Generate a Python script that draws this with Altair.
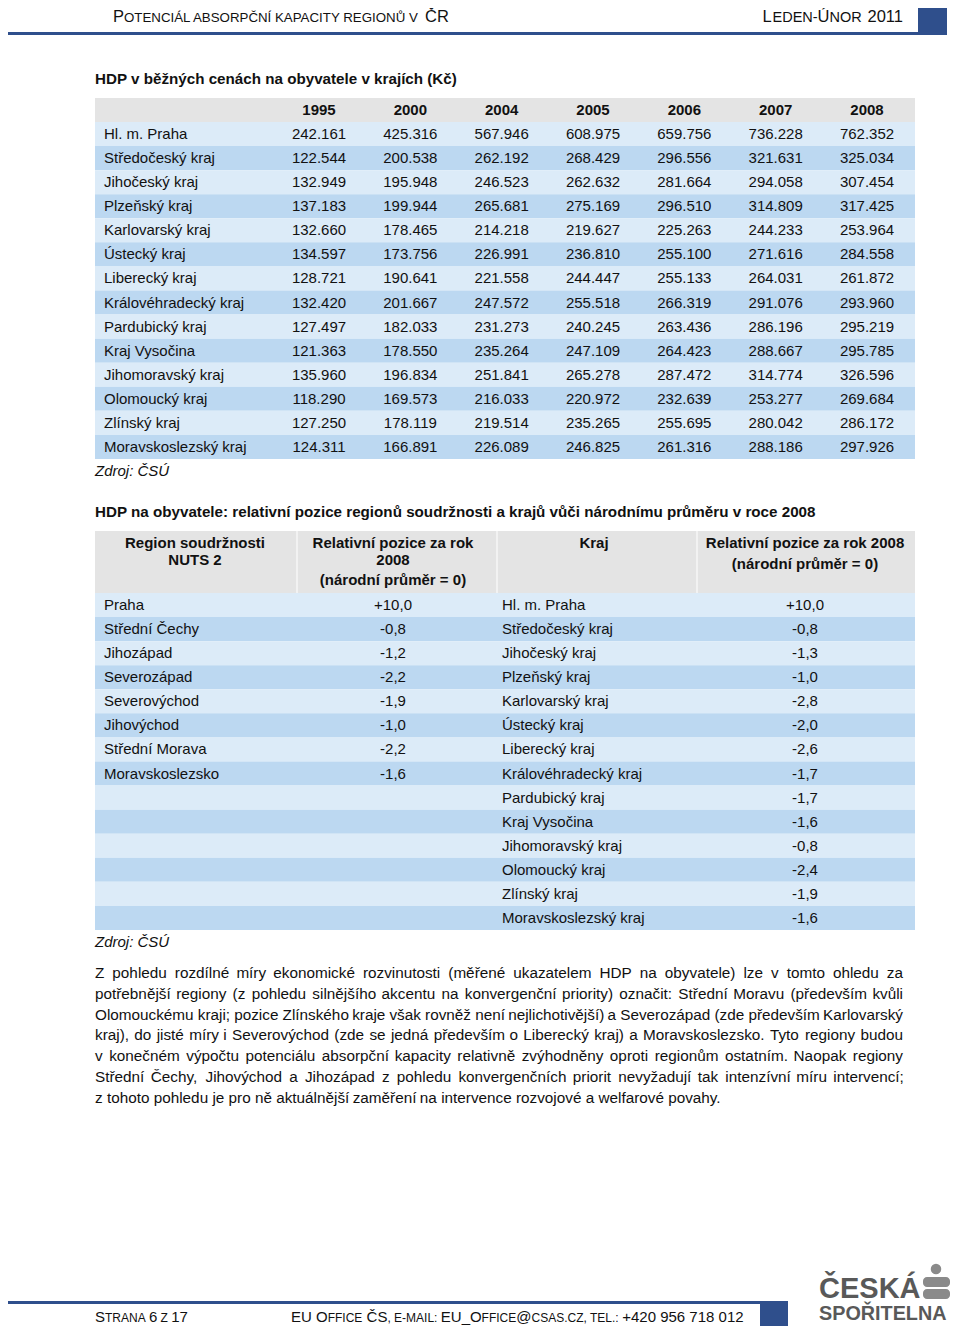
import unicodedata
import altair as alt
import pandas as pd

# ------------------------------------------------------------------ data
years = ["1995", "2000", "2004", "2005", "2006", "2007", "2008"]
kraje = ["Hl. m. Praha", "Středočeský kraj", "Jihočeský kraj", "Plzeňský kraj",
         "Karlovarský kraj", "Ústecký kraj", "Liberecký kraj", "Královéhradecký kraj",
         "Pardubický kraj", "Kraj Vysočina", "Jihomoravský kraj", "Olomoucký kraj",
         "Zlínský kraj", "Moravskoslezský kraj"]
hdp_1995 = [242.161, 122.544, 132.949, 137.183, 132.660, 134.597, 128.721, 132.420, 127.497, 121.363, 135.960, 118.290, 127.250, 124.311]
hdp_2000 = [425.316, 200.538, 195.948, 199.944, 178.465, 173.756, 190.641, 201.667, 182.033, 178.550, 196.834, 169.573, 178.119, 166.891]
hdp_2004 = [567.946, 262.192, 246.523, 265.681, 214.218, 226.991, 221.558, 247.572, 231.273, 235.264, 251.841, 216.033, 219.514, 226.089]
hdp_2005 = [608.975, 268.429, 262.632, 275.169, 219.627, 236.810, 244.447, 255.518, 240.245, 247.109, 265.278, 220.972, 235.265, 246.825]
hdp_2006 = [659.756, 296.556, 281.664, 296.510, 225.263, 255.100, 255.133, 266.319, 263.436, 264.423, 287.472, 232.639, 255.695, 261.316]
hdp_2007 = [736.228, 321.631, 294.058, 314.809, 244.233, 271.616, 264.031, 291.076, 286.196, 288.667, 314.774, 253.277, 280.042, 288.186]
hdp_2008 = [762.352, 325.034, 307.454, 317.425, 253.964, 284.558, 261.872, 293.960, 295.219, 295.785, 326.596, 269.684, 286.172, 297.926]

nuts2 = ["Praha", "Střední Čechy", "Jihozápad", "Severozápad", "Severovýchod",
         "Jihovýchod", "Střední Morava", "Moravskoslezsko"]
nuts2_pos = [10.0, -0.8, -1.2, -2.2, -1.9, -1.0, -2.2, -1.6]
kraje_pos = [10.0, -0.8, -1.3, -1.0, -2.8, -2.0, -2.6, -1.7, -1.7, -1.6, -0.8, -2.4, -1.9, -1.6]

title1 = "HDP v běžných cenách na obyvatele v krajích (Kč)"
title2 = ("HDP na obyvatele: relativní pozice regionů soudržnosti a krajů vůči "
          "národnímu průměru v roce 2008")
source_note = "Zdroj: ČSÚ"
paragraph_lines = [
    "Z pohledu rozdílné míry ekonomické rozvinutosti (měřené ukazatelem HDP na obyvatele) lze v tomto ohledu za",
    "potřebnější regiony (z pohledu silnějšího akcentu na konvergenční priority) označit: Střední Moravu (především kvůli",
    "Olomouckému kraji; pozice Zlínského kraje však rovněž není nejlichotivější) a Severozápad (zde především Karlovarský",
    "kraj), do jisté míry i Severovýchod (zde se jedná především o Liberecký kraj) a Moravskoslezsko. Tyto regiony budou",
    "v konečném výpočtu potenciálu absorpční kapacity relativně zvýhodněny oproti regionům ostatním. Naopak regiony",
    "Střední Čechy, Jihovýchod a Jihozápad z pohledu konvergenčních priorit nevyžadují tak intenzívní míru intervencí;",
    "z tohoto pohledu je pro ně aktuálnější zaměření na intervence rozvojové a welfarové povahy.",
]

# ------------------------------------------------------------------ styles
SANS = "Liberation Sans, Arial, sans-serif"
INK = "#111111"
HEAD_GRAY = "#e4e4e4"
LIGHT = "#dcebf8"
DARK = "#bcd8f1"
NAVY = "#2f4f8c"
LOGO = "#595959"
LOGO2 = "#8a8a8a"
W, H = 944, 1318
OX, OY = 8, 8      # page -> chart offset


def PX(v):
    return v - OX


def PY(v):
    return v - OY


def label(txt, x, y, size=15, weight="normal", style="normal", font=SANS,
          align="left", baseline="middle", color=INK):
    return alt.Chart(pd.DataFrame({"t": [txt]})).mark_text(
        align=align, baseline=baseline, fontSize=size, fontWeight=weight,
        fontStyle=style, font=font, color=color
    ).encode(x=alt.value(PX(x)), y=alt.value(PY(y)), text="t:N")


def box(x1, x2, y1, y2, color, radius=0):
    m = alt.Chart(pd.DataFrame({"a": [0]}))
    mk = m.mark_rect(color=color, cornerRadius=radius) if radius else m.mark_rect(color=color)
    return mk.encode(x=alt.value(PX(x1)), x2=alt.value(PX(x2)),
                     y=alt.value(PY(y1)), y2=alt.value(PY(y2)))


layers = []

# ------------------------------------------------------------------ page header
HB, HS, hb = 16.5, 13.3, 22
layers += [
    label("P", 113, hb, size=HB, baseline="alphabetic"),
    label("OTENCIÁL ABSORPČNÍ KAPACITY REGIONŮ V", 124, hb, size=HS, baseline="alphabetic"),
    label("ČR", 425, hb, size=HB, baseline="alphabetic"),
    label("L", 762.4, hb, size=HB, baseline="alphabetic"),
    label("EDEN-", 772.5, hb, size=14.5, baseline="alphabetic"),
    label("Ú", 817.6, hb, size=HB, baseline="alphabetic"),
    label("NOR", 829.5, hb, size=14.5, baseline="alphabetic"),
    label("2011", 903, hb, size=HB, baseline="alphabetic", align="right"),
    box(2, 918, 32, 35, NAVY),
    box(918, 947, 8, 35, NAVY),
]

# ------------------------------------------------------------------ table 1
series = {"1995": hdp_1995, "2000": hdp_2000, "2004": hdp_2004, "2005": hdp_2005,
          "2006": hdp_2006, "2007": hdp_2007, "2008": hdp_2008}
t1_rows = pd.DataFrame({"row": list(range(len(kraje))), "kraj": kraje,
                        "band": ["a" if i % 2 == 0 else "b" for i in range(len(kraje))]})
t1_cells = pd.DataFrame([{"row": i, "year": y, "value": series[y][i]}
                         for i in range(len(kraje)) for y in years])
t1_years = pd.DataFrame({"year": years})

Y1_BAND = alt.Scale(type="band", domain=list(range(14)), range=[PY(122), PY(459)],
                    paddingInner=0, paddingOuter=0)
Y1_PT = alt.Scale(type="point", domain=list(range(14)), range=[PY(122), PY(459)], padding=0.5)
X1 = alt.Scale(type="point", domain=years, range=[PX(319), PX(867)], padding=0)
BANDS = alt.Scale(domain=["a", "b"], range=[LIGHT, DARK])

layers += [
    label(title1, 95, 79, size=15.2, weight="bold"),
    box(95, 915, 98, 122, HEAD_GRAY),
    alt.Chart(t1_rows).mark_rect().encode(
        x=alt.value(PX(95)), x2=alt.value(PX(915)),
        y=alt.Y("row:O", scale=Y1_BAND, axis=None),
        color=alt.Color("band:N", scale=BANDS, legend=None)),
    alt.Chart(t1_years).mark_text(fontSize=15, fontWeight="bold", font=SANS, color=INK,
                                  baseline="middle").encode(
        x=alt.X("year:O", scale=X1, axis=None), y=alt.value(PY(110)), text="year:N"),
    alt.Chart(t1_rows).mark_text(fontSize=15, font=SANS, color=INK, align="left",
                                 baseline="middle").encode(
        x=alt.value(PX(104)), y=alt.Y("row:O", scale=Y1_PT, axis=None), text="kraj:N"),
    alt.Chart(t1_cells).mark_text(fontSize=15, font=SANS, color=INK,
                                  baseline="middle").encode(
        x=alt.X("year:O", scale=X1, axis=None),
        y=alt.Y("row:O", scale=Y1_PT, axis=None),
        text=alt.Text("value:Q", format=".3f")),
    label(source_note, 95, 471, style="italic"),
]

# ------------------------------------------------------------------ table 2
t2_rows = pd.DataFrame({"row": list(range(len(kraje))), "kraj": kraje, "v": kraje_pos,
                        "band": ["a" if i % 2 == 0 else "b" for i in range(len(kraje))]})
t2_nuts = pd.DataFrame({"row": list(range(len(nuts2))), "name": nuts2, "v": nuts2_pos})
Y2_BAND = alt.Scale(type="band", domain=list(range(14)), range=[PY(593), PY(930)],
                    paddingInner=0, paddingOuter=0)
Y2_PT = alt.Scale(type="point", domain=list(range(14)), range=[PY(593), PY(930)], padding=0.5)
FMT = "(datum.v > 0 ? '+' : '-') + replace(format(abs(datum.v), '.1f'), '.', ',')"


def txt_layer(df, field, x, align, fmt=False):
    c = alt.Chart(df)
    if fmt:
        c = c.transform_calculate(lbl=FMT)
        field = "lbl"
    return c.mark_text(fontSize=15, font=SANS, color=INK, align=align,
                       baseline="middle").encode(
        x=alt.value(PX(x)), y=alt.Y("row:O", scale=Y2_PT, axis=None), text=f"{field}:N")


layers += [
    label(title2, 95, 512, size=15.2, weight="bold"),
    box(95, 915, 531, 593, HEAD_GRAY),
    box(296, 298, 531, 593, "#f2f2f2"),
    box(496, 498, 531, 593, "#f2f2f2"),
    box(696, 698, 531, 593, "#f2f2f2"),
    alt.Chart(t2_rows).mark_rect().encode(
        x=alt.value(PX(95)), x2=alt.value(PX(915)),
        y=alt.Y("row:O", scale=Y2_BAND, axis=None),
        color=alt.Color("band:N", scale=BANDS, legend=None)),
    label("Region soudržnosti", 195, 543, weight="bold", align="center"),
    label("NUTS 2", 195, 560, weight="bold", align="center"),
    label("Relativní pozice za rok", 393, 543, weight="bold", align="center"),
    label("2008", 393, 560, weight="bold", align="center"),
    label("(národní průměr = 0)", 393, 580, weight="bold", align="center"),
    label("Kraj", 594, 543, weight="bold", align="center"),
    label("Relativní pozice za rok 2008", 805, 543, weight="bold", align="center"),
    label("(národní průměr = 0)", 805, 564, weight="bold", align="center"),
    txt_layer(t2_nuts, "name", 104, "left"),
    txt_layer(t2_nuts, "v", 393, "center", fmt=True),
    txt_layer(t2_rows, "kraj", 502, "left"),
    txt_layer(t2_rows, "v", 805, "center", fmt=True),
    label(source_note, 95, 942, style="italic"),
]

# ------------------------------------------------------------------ paragraph (justified)
# Arial / Liberation Sans advance widths (1/1000 em) used to justify the lines.
ADV = {" ": 278, "(": 333, ")": 333, ",": 278, "-": 333, ".": 278, ":": 278, ";": 278,
       "a": 556, "b": 556, "c": 500, "d": 556, "e": 556, "f": 278, "g": 556, "h": 556,
       "i": 222, "j": 222, "k": 500, "l": 222, "m": 833, "n": 556, "o": 556, "p": 556,
       "q": 556, "r": 333, "s": 500, "t": 278, "u": 556, "v": 500, "w": 722, "x": 500,
       "y": 500, "z": 500, "A": 667, "B": 667, "C": 722, "D": 722, "E": 667, "F": 611,
       "G": 778, "H": 722, "I": 278, "J": 500, "K": 667, "L": 556, "M": 833, "N": 722,
       "O": 778, "P": 667, "R": 722, "S": 667, "T": 611, "U": 722, "V": 667, "Z": 611}
PFS = 15.3
P_LEFT, P_RIGHT = 95, 903


def adv(word):
    tot = 0
    for ch in word:
        base = unicodedata.normalize("NFD", ch)[0]
        tot += ADV.get(base, 556)
    return tot * PFS / 1000.0


words = []
for li, line in enumerate(paragraph_lines):
    ws = line.split(" ")
    widths = [adv(w) for w in ws]
    last = li == len(paragraph_lines) - 1
    gap = adv(" ") if last else ((P_RIGHT - P_LEFT) - sum(widths)) / (len(ws) - 1)
    x = P_LEFT
    for w, wd in zip(ws, widths):
        words.append({"i": li, "word": w, "x": PX(x)})
        x += wd + gap
para = pd.DataFrame(words)
layers.append(
    alt.Chart(para).mark_text(fontSize=PFS, font=SANS, color=INK, align="left",
                              baseline="middle").encode(
        x=alt.X("x:Q", scale=alt.Scale(domain=[0, W], range=[0, W], nice=False, zero=False),
                axis=None),
        y=alt.Y("i:O", scale=alt.Scale(type="point", domain=list(range(7)),
                                       range=[PY(962.6), PY(1108.2)], padding=0.5), axis=None),
        text="word:N")
)

# ------------------------------------------------------------------ footer
fb = 1322
FB, FS = 15, 12
LG, LX = -11, -6
layers += [
    box(0, 762, 1301, 1304, NAVY),
    box(760, 788, 1301, 1329, NAVY),
    label("S", 95, fb, size=FB, baseline="alphabetic"),
    label("TRANA", 105, fb, size=FS, baseline="alphabetic"),
    label("6", 149, fb, size=FB, baseline="alphabetic"),
    label("Z", 160.6, fb, size=FS, baseline="alphabetic"),
    label("17", 171.2, fb, size=FB, baseline="alphabetic"),
    label("EU O", 291, fb, size=FB, baseline="alphabetic"),
    label("FFICE", 327.7, fb, size=FS, baseline="alphabetic"),
    label("ČS", 366.6, fb, size=FB, baseline="alphabetic"),
    label(", E-MAIL:", 387.4, fb, size=FS, baseline="alphabetic"),
    label("EU_O", 440.8, fb, size=FB, baseline="alphabetic"),
    label("FFICE", 481.6, fb, size=FS, baseline="alphabetic"),
    label("@", 516.3, fb, size=FB, baseline="alphabetic"),
    label("CSAS.CZ, TEL.:", 531.5, fb, size=FS, baseline="alphabetic"),
    label("+420 956 718 012", 622.2, fb, size=FB, baseline="alphabetic"),
    # logo
    label("ČESKÁ", 825 + LX, 1309 + LG, size=29, weight="bold", baseline="alphabetic", color=LOGO),
    label("SPOŘITELNA", 825 + LX, 1331 + LG, size=19.8, weight="bold", baseline="alphabetic", color=LOGO),
    box(929 + LX, 956 + LX, 1288 + LG, 1298 + LG, LOGO2, radius=4),
    box(929 + LX, 956 + LX, 1300 + LG, 1310 + LG, LOGO2, radius=4),
    alt.Chart(pd.DataFrame({"a": [0]})).mark_circle(color=LOGO2, opacity=1, size=110).encode(
        x=alt.value(PX(942 + LX)), y=alt.value(PY(1280 + LG))),
]

chart = alt.layer(*layers).resolve_scale(
    x="independent", y="independent", color="independent"
).properties(
    width=W, height=H, padding=0,
    autosize=alt.AutoSizeParams(type="none"),
    background="white",
).configure_view(stroke=None)

chart.save("out.html", embed_options={"renderer": "svg", "actions": False})
